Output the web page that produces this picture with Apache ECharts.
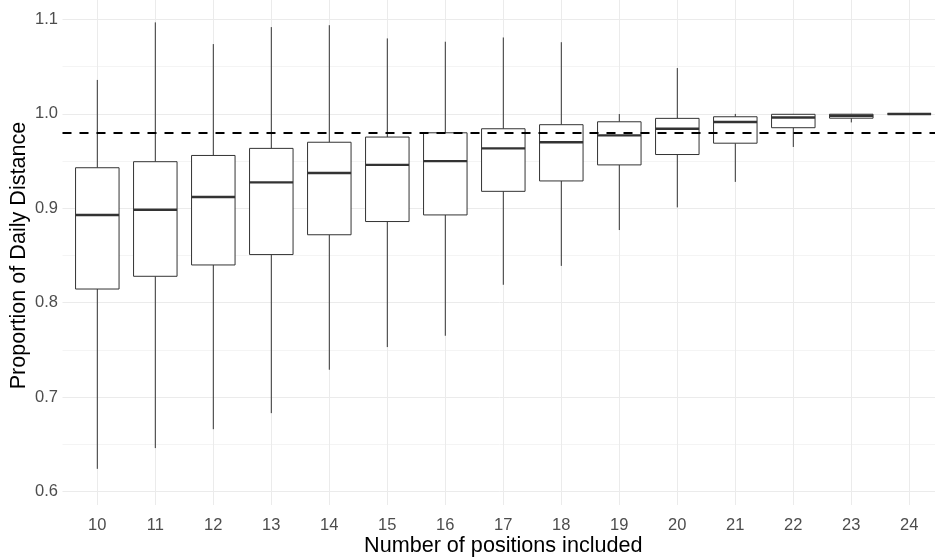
<!DOCTYPE html>
<html>
<head>
<meta charset="utf-8">
<script src="https://cdn.jsdelivr.net/npm/echarts@6/dist/echarts.min.js"></script>
<style>
  html, body { margin: 0; padding: 0; background: #ffffff; }
  #chart { width: 935px; height: 557px; }
</style>
</head>
<body>
<div id="chart"></div>
<script>
// Number of positions included (x categories)
const categories = ['10', '11', '12', '13', '14', '15', '16', '17', '18', '19', '20', '21', '22', '23', '24'];

// Five-number summaries of the proportion of daily distance
const whiskerLow = [0.624, 0.646, 0.666, 0.683, 0.729, 0.753, 0.765, 0.819, 0.839, 0.877, 0.901, 0.928, 0.965, 0.991, 0.9997];
const quartile1  = [0.8145, 0.828, 0.840, 0.851, 0.872, 0.886, 0.893, 0.918, 0.929, 0.946, 0.957, 0.969, 0.9854, 0.9955, 0.9999];
const medians    = [0.893, 0.8985, 0.912, 0.9275, 0.9374, 0.946, 0.950, 0.9635, 0.970, 0.9773, 0.9843, 0.9914, 0.9962, 0.998, 1.0];
const quartile3  = [0.943, 0.9494, 0.956, 0.9635, 0.970, 0.9755, 0.980, 0.9843, 0.9886, 0.9917, 0.9953, 0.997, 0.9996, 0.9997, 1.0];
const whiskerHigh = [1.036, 1.097, 1.074, 1.092, 1.094, 1.080, 1.0765, 1.081, 1.076, 0.9999, 1.0486, 1.0, 1.0, 1.0, 1.0];

// Reference level drawn as a dashed line
const referenceLevel = 0.984;

// Y tick values
const yTicks = [0.6, 0.7, 0.8, 0.9, 1.0, 1.1];

const boxData = categories.map((c, i) => [i, whiskerLow[i], quartile1[i], medians[i], quartile3[i], whiskerHigh[i]]);

const FONT = "'Liberation Sans', Arial, sans-serif";
const INK = '#333333';
const BOX_RATIO = 0.75;

function renderBox(params, api) {
  const x = api.value(0);
  const pLow = api.coord([x, api.value(1)]);
  const pQ1 = api.coord([x, api.value(2)]);
  const pMed = api.coord([x, api.value(3)]);
  const pQ3 = api.coord([x, api.value(4)]);
  const pHigh = api.coord([x, api.value(5)]);
  const halfW = api.size([1, 0])[0] * BOX_RATIO / 2;
  return {
    type: 'group',
    children: [
      { type: 'line', shape: { x1: pLow[0], y1: pLow[1], x2: pQ1[0], y2: pQ1[1] },
        style: { stroke: INK, lineWidth: 1 } },
      { type: 'line', shape: { x1: pQ3[0], y1: pQ3[1], x2: pHigh[0], y2: pHigh[1] },
        style: { stroke: INK, lineWidth: 1 } },
      { type: 'rect', shape: { x: pQ1[0] - halfW, y: pQ3[1], width: halfW * 2, height: pQ1[1] - pQ3[1] },
        style: { fill: '#ffffff', stroke: INK, lineWidth: 1 } },
      { type: 'line', shape: { x1: pMed[0] - halfW, y1: pMed[1], x2: pMed[0] + halfW, y2: pMed[1] },
        style: { stroke: INK, lineWidth: 2.4 } }
    ]
  };
}

const chart = echarts.init(document.getElementById('chart'), null, { renderer: 'canvas' });

chart.setOption({
  animation: false,
  backgroundColor: '#ffffff',
  textStyle: { fontFamily: FONT },
  grid: [
    // panel for the value scale, its grid lines and the reference line
    { left: 62.5, right: -12, top: 19.5, bottom: 65.5, containLabel: false, outerBoundsMode: 'none' },
    // panel for the boxes and the category scale
    { left: 97.3, right: 25.7, top: 0, bottom: 52, containLabel: false, outerBoundsMode: 'none' }
  ],
  xAxis: [
    { gridIndex: 0, type: 'value', min: 0, max: 1, show: false },
    {
      gridIndex: 1, type: 'category', data: categories, boundaryGap: false,
      axisLine: { show: false }, axisTick: { show: false },
      axisLabel: { color: '#4d4d4d', fontSize: 16.5, margin: 12, fontFamily: FONT },
      splitLine: { show: true, lineStyle: { color: '#ebebeb', width: 1 } },
      name: 'Number of positions included', nameLocation: 'middle', nameGap: 30,
      nameMoveOverlap: false,
      nameTextStyle: { color: '#000000', fontSize: 21.6, fontFamily: FONT }
    }
  ],
  yAxis: [
    {
      gridIndex: 0, type: 'value', min: yTicks[0], max: yTicks[yTicks.length - 1], interval: 0.1,
      axisLine: { show: false }, axisTick: { show: false },
      axisLabel: { color: '#4d4d4d', fontSize: 16.5, margin: 4.5, fontFamily: FONT,
        formatter: v => v.toFixed(1) },
      splitLine: { show: true, lineStyle: { color: '#ebebeb', width: 1 } },
      minorTick: { show: false, splitNumber: 2 },
      minorSplitLine: { show: true, lineStyle: { color: '#f4f4f4', width: 1 } },
      name: 'Proportion of Daily Distance', nameLocation: 'middle', nameGap: 32,
      nameMoveOverlap: false,
      nameTextStyle: { color: '#000000', fontSize: 21.6, fontFamily: FONT }
    },
    { gridIndex: 1, type: 'value', min: 0.5857, max: 1.1207, show: false }
  ],
  series: [
    {
      type: 'custom',
      xAxisIndex: 1, yAxisIndex: 1,
      renderItem: renderBox,
      encode: { x: 0, y: [1, 2, 3, 4, 5] },
      data: boxData,
      z: 3
    },
    {
      type: 'line',
      xAxisIndex: 0, yAxisIndex: 0,
      data: [],
      silent: true,
      markLine: {
        silent: true,
        symbol: 'none',
        label: { show: false },
        lineStyle: { color: '#000000', width: 2, type: [9, 8] },
        data: [{ yAxis: referenceLevel }]
      },
      z: 5
    }
  ]
});
</script>
</body>
</html>
